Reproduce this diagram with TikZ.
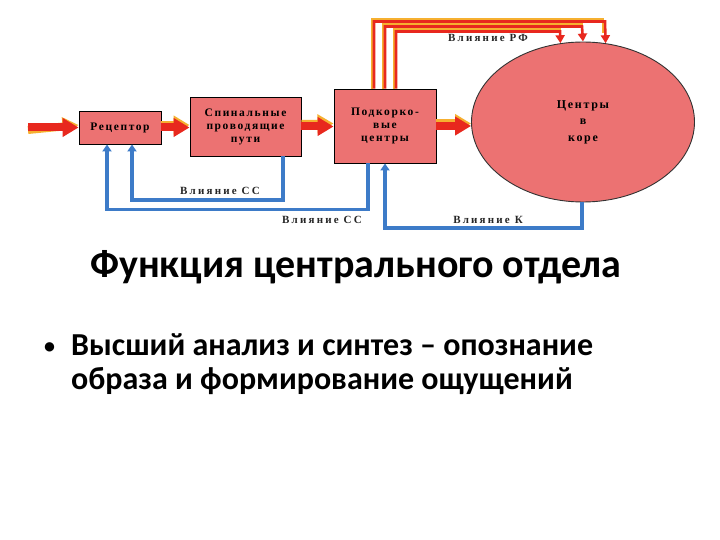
\documentclass[tikz,border=0pt]{standalone}
\usepackage{fontspec}
\setmainfont{Carlito}
\newfontfamily\diagfont[LetterSpace=14]{Liberation Serif}
\newfontfamily\lblfont[LetterSpace=20]{Liberation Serif}
\usetikzlibrary{shapes.geometric,arrows.meta}
\definecolor{boxfill}{HTML}{EC7272}
\definecolor{arrred}{HTML}{E8281E}
\definecolor{halo}{HTML}{F6B030}
\definecolor{blueline}{HTML}{3D7BC8}
\tikzset{
  blockbox/.style={draw=black, line width=0.9pt, fill=boxfill, font=\diagfont\bfseries\fontsize{11.5}{13}\selectfont, align=center, inner sep=0pt},
  fatarrow/.style={arrred, line width=8pt, -{Triangle[length=16pt,width=18pt]}},
  fathalo/.style={halo, line width=8pt, -{Triangle[length=16pt,width=18pt]}},
  rfline/.style={arrred, line width=2.6pt, -{Triangle[length=8pt,width=9pt]}},
  rfhalo/.style={halo, line width=2.2pt},
  fbline/.style={blueline, line width=3.3pt, -{Triangle[length=7pt,width=9pt]}},
  lbl/.style={font=\lblfont\bfseries\fontsize{11}{12}\selectfont, inner sep=0pt, text=black!85}
}
\begin{document}
\begin{tikzpicture}[x=1pt,y=-1pt]
\useasboundingbox[fill=white] (0,0) rectangle (720,540);
% blocks
\node[blockbox, minimum width=82pt, minimum height=33pt] (rec) at (120,127.5) {Рецептор};
\node[blockbox, minimum width=111pt, minimum height=59pt] (spin) at (245.5,126.5) {Спинальные\\проводящие\\пути};
\node[blockbox, minimum width=102pt, minimum height=74pt] (pk) at (385,126) {Подкорко-\\вые\\центры};
\node[ellipse, draw=black!80, line width=0.9pt, fill=boxfill, minimum width=223pt, minimum height=160pt, inner sep=0pt,
      font=\diagfont\bfseries\fontsize{12}{16.5}\selectfont, align=center] (ell) at (583,122) {Центры\\в\\коре};
\coordinate (in) at (28,127.5);
% red forward arrows (halo then red)
\draw[fathalo] ([yshift=-2.5pt]in) -- ([yshift=2.5pt]rec.west);
\draw[fatarrow] (in) -- (rec.west);
\draw[fathalo] ([yshift=2.5pt]rec.east) -- ([yshift=1.5pt]spin.west);
\draw[fatarrow] (rec.east) -- (spin.west |- rec.east);
\draw[fathalo] ([yshift=2.5pt]spin.east) -- ([yshift=2.5pt]pk.west);
\draw[fatarrow] (spin.east) -- (pk.west |- spin.east);
\draw[fathalo] ([yshift=2.5pt]pk.east) -- ([yshift=2.5pt]pk.east -| ell.west);
\draw[fatarrow] (pk.east) -- (pk.east -| ell.west);
% RF lines
\draw[rfhalo] ([xshift=-13pt,yshift=0pt]pk.north) |- ++(231,-69.5) -- ++(0,14);
\draw[rfline] ([xshift=-11pt]pk.north) |- ++(231,-67) -- (ell.74);
\draw[rfhalo] ([xshift=-2pt]pk.north) |- ++(199,-64.5) -- ++(0,14);
\draw[rfline] (pk.north) |- ++(197,-62) -- (ell.90.5);
\draw[rfhalo] ([xshift=9pt]pk.north) |- ++(166,-59.5) -- ++(0,9);
\draw[rfline] ([xshift=11pt]pk.north) |- ++(164,-57) -- (ell.106);
\node[lbl] (lrf) at (488,38) {Влияние  РФ};
% feedback lines
\draw[fbline] ([xshift=37.5pt]spin.south) |- (132,200) -- ([xshift=12pt]rec.south);
\draw[fbline] ([xshift=-17pt]pk.south) |- (107,209.5) -- ([xshift=-13pt]rec.south);
\draw[fbline] ([xshift=-1pt]ell.south) |- (385,228) -- (pk.south);
\node[lbl] (lcc1) at (220,191) {Влияние  СС};
\node[lbl] (lcc2) at (322,219.5) {Влияние  СС};
\node[lbl] (lk) at (488,219.5) {Влияние  К};
% text
\node[font=\bfseries\fontsize{40}{44}\selectfont, anchor=base west, inner sep=0pt] (title) at (90,277) {Функция центрального отдела};
\node[font=\bfseries\fontsize{22}{36}\selectfont, anchor=base west, inner sep=0pt] (bul) at (44,353) {•};
\node[font=\bfseries\fontsize{32}{36}\selectfont, anchor=base west, inner sep=0pt, align=left] (b1) at (71,355) {Высший анализ и синтез – опознание};
\node[font=\bfseries\fontsize{32}{36}\selectfont, anchor=base west, inner sep=0pt, align=left] (b2) at (71,389) {образа и формирование ощущений};
\end{tikzpicture}
\end{document}
